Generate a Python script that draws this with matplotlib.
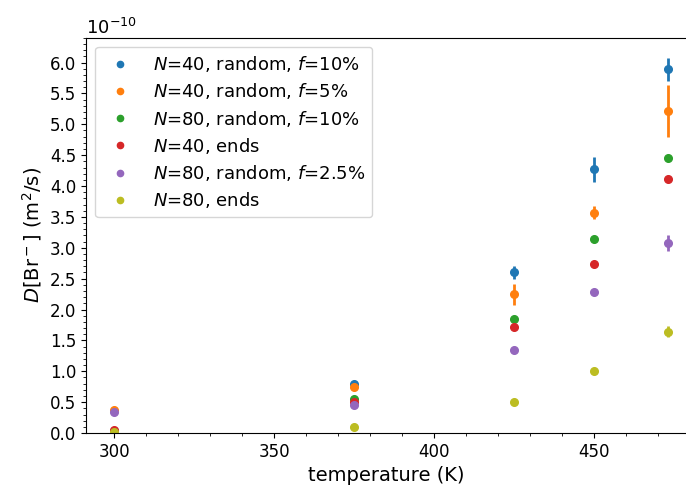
import numpy as np
import matplotlib
matplotlib.use('Agg')
import matplotlib.pyplot as plt
from matplotlib.lines import Line2D
from matplotlib.ticker import ScalarFormatter, AutoMinorLocator, MultipleLocator

# temperatures (K)
temps = [300, 375, 425, 450, 473]

# diffusion coefficients in units of 1e-10 m^2/s
d_n40_f10 = [0.04, 0.79, 2.60, 4.27, 5.89]
d_n40_f5 = [0.37, 0.74, 2.25, 3.57, 5.22]
d_n80_f10 = [0.04, 0.55, 1.84, 3.15, 4.45]
d_n40_ends = [0.05, 0.50, 1.71, 2.74, 4.12]
d_n80_f25 = [0.34, 0.45, 1.35, 2.29, 3.08]
d_n80_ends = [0.02, 0.10, 0.51, 1.01, 1.64]

# error bars (same units)
e_n40_f10 = [0.0, 0.0, 0.10, 0.20, 0.19]
e_n40_f5 = [0.0, 0.0, 0.17, 0.10, 0.42]
e_n80_f10 = [0.0, 0.0, 0.0, 0.0, 0.0]
e_n40_ends = [0.0, 0.0, 0.0, 0.0, 0.0]
e_n80_f25 = [0.0, 0.0, 0.0, 0.0, 0.13]
e_n80_ends = [0.0, 0.0, 0.0, 0.0, 0.09]

labels = ['$N$=40, random, $f$=10%',
          '$N$=40, random, $f$=5%',
          '$N$=80, random, $f$=10%',
          '$N$=40, ends',
          '$N$=80, random, $f$=2.5%',
          '$N$=80, ends']

series = [(d_n40_f10, e_n40_f10), (d_n40_f5, e_n40_f5), (d_n80_f10, e_n80_f10),
          (d_n40_ends, e_n40_ends), (d_n80_f25, e_n80_f25), (d_n80_ends, e_n80_ends)]
colours = ['#1f77b4', '#ff7f0e', '#2ca02c', '#d62728', '#9467bd', '#bcbd22']


class PowerFormatter(ScalarFormatter):
    # offset shown as a plain power of ten
    def get_offset(self):
        if self.orderOfMagnitude == 0:
            return ''
        return r'$10^{%d}$' % self.orderOfMagnitude


fig = plt.figure(figsize=(6.86, 4.91), dpi=100)
ax = fig.add_axes([0.1254, 0.118, 0.8746, 0.805])

handles = []
for (vals, errs), col, lab in zip(series, colours, labels):
    y = np.array(vals) * 1e-10
    yerr = np.array(errs) * 1e-10
    ax.errorbar(temps, y, yerr=yerr, fmt='o', color=col, markersize=5.5,
                elinewidth=2, capsize=0)
    handles.append(Line2D([], [], linestyle='none', marker='o', color=col,
                          markersize=4.5, label=lab))

ax.set_xlim(291.25, 478.75)
ax.set_ylim(0, 6.4e-10)
ax.xaxis.set_major_locator(MultipleLocator(50))
ax.xaxis.set_minor_locator(AutoMinorLocator(5))
ax.yaxis.set_major_locator(MultipleLocator(0.5e-10))
ax.yaxis.set_minor_locator(AutoMinorLocator(5))

fmt = PowerFormatter()
fmt.set_powerlimits((0, 0))
ax.yaxis.set_major_formatter(fmt)
ax.yaxis.get_offset_text().set_fontsize(13)

ax.tick_params(labelsize=12)
ax.spines['right'].set_visible(False)

ax.set_xlabel('temperature (K)', fontsize=14)
ax.set_ylabel(r'$D$[Br$^-$] (m$^2$/s)', fontsize=14)

ax.legend(handles=handles, loc='upper left', fontsize=13, numpoints=1,
          handletextpad=0.8, borderaxespad=0.5, labelspacing=0.4)

fig.savefig('out.png', dpi=100)
